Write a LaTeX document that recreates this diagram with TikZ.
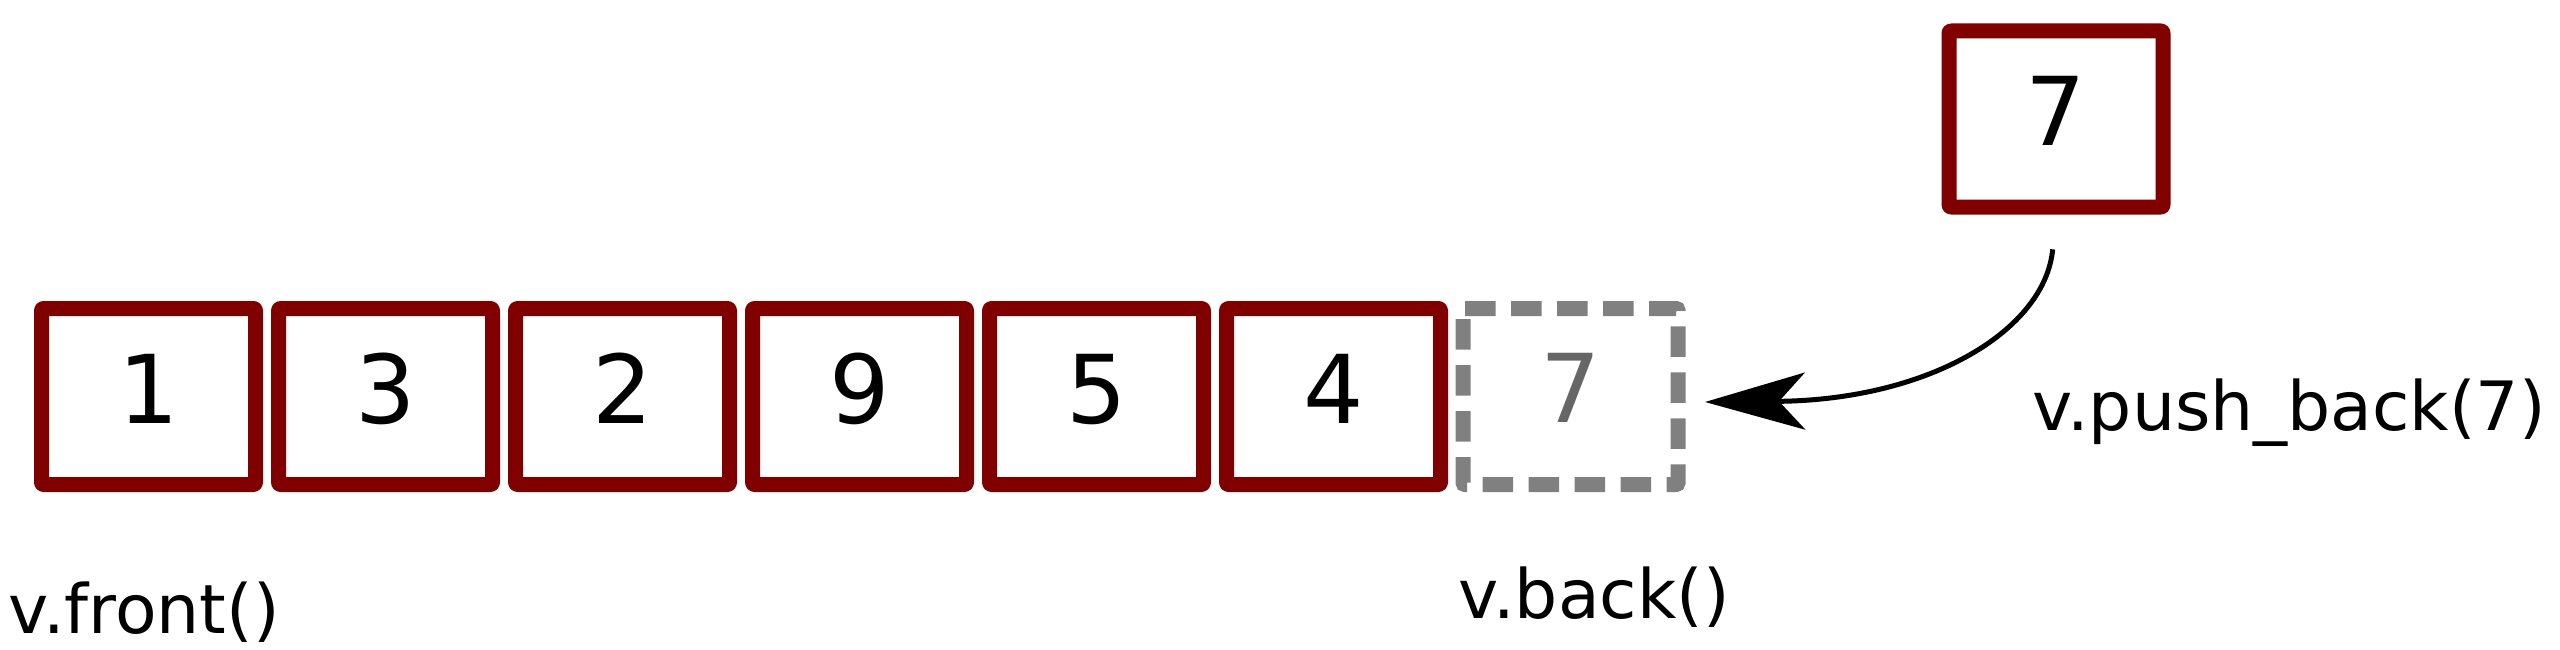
\documentclass[tikz,border=0pt]{standalone}
\usepackage{fontspec}
\setmainfont{DejaVu Sans}
\usetikzlibrary{arrows.meta}
\definecolor{boxred}{HTML}{800000}
\definecolor{dashgray}{HTML}{808080}
\definecolor{txtgray}{HTML}{666666}
\begin{document}
\begin{tikzpicture}[x=1pt,y=-1pt,
  cell/.style={draw=boxred,line width=15pt,rounded corners=2pt,line join=round,
    minimum width=214pt,minimum height=176pt,inner sep=0pt,
    text depth=16pt,font=\fontsize{95}{95}\selectfont},
  ghost/.style={minimum width=215pt,minimum height=176pt,inner sep=0pt,outer sep=0pt,
    text depth=18pt,text=txtgray,font=\fontsize{95}{95}\selectfont},
  ghostline/.style={draw=dashgray,line width=15pt,rounded corners=2pt,
    dash pattern=on 30.5pt off 15.5pt,dash phase=0pt},
  lbl/.style={anchor=base west,inner sep=0pt,font=\fontsize{68}{80}\selectfont},
  pusharrow/.style={line width=5pt,-{Stealth[length=100pt,width=57pt,inset=26pt]}}
]
\useasboundingbox (0,0) rectangle (2560,650);
\node[cell] (c1) at (148.5,396.5) {1};
\node[cell] (c2) at (385.5,396.5) {3};
\node[cell] (c3) at (622.5,396.5) {2};
\node[cell] (c4) at (859.5,396.5) {9};
\node[cell] (c5) at (1096.5,396.5) {5};
\node[cell] (c6) at (1333.5,396.5) {4};
\node[ghost] (nw) at (1570.5,396.5) {7};
\draw[ghostline] (nw.north west) -- (nw.north east) -- (nw.south east) -- (nw.south west) -- cycle;
\node[cell] (top) at (2056,119) {7};
\coordinate (tip) at (1705,402);
\draw[pusharrow,shorten <=35pt] (top.south) .. controls (2045,330) and (1930,400) .. (tip);
\node[lbl] (front) at (8,633) {v.front()};
\node[lbl] (back) at (1458,618) {v.back()};
\node[lbl] (push) at (2032,430) {v.push\_back(7)};
\end{tikzpicture}
\end{document}
